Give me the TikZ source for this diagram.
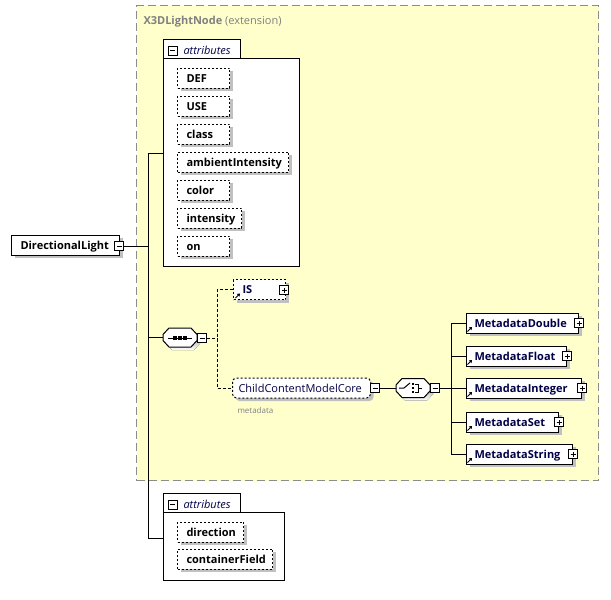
\documentclass[tikz,border=0pt]{standalone}
\usepackage{fontspec}
\setmainfont{Open Sans}
\usetikzlibrary{shadows,arrows.meta}
\definecolor{extfill}{HTML}{FFFFCC}
\definecolor{extline}{HTML}{8C8C8C}
\definecolor{shade}{HTML}{C0C0C0}
\definecolor{navy}{HTML}{000048}
\definecolor{graytext}{HTML}{808080}
\begin{document}
\begin{tikzpicture}[x=1pt,y=-1pt,line width=1pt,
  shad/.style={drop shadow={shadow xshift=3pt,shadow yshift=-3pt,opacity=1,fill=shade}},
  box/.style={draw, fill=white, shad, anchor=west, minimum height=20pt, inner ysep=0pt,
     text height=9pt, text depth=1pt, align=left, font=\bfseries\fontsize{11}{13}\selectfont},
  attr/.style={box, dash pattern=on 2pt off 2pt, inner xsep=9pt},
  refbox/.style={box, inner xsep=8pt, text=navy},
  minus/.style={draw, fill=white, minimum size=9pt, inner sep=0pt, line width=0.8pt,
     path picture={\draw[line width=0.8pt] ([xshift=2pt]path picture bounding box.west) -- ([xshift=-2pt]path picture bounding box.east);}},
  plus/.style={draw, fill=white, minimum size=9pt, inner sep=0pt, line width=0.8pt,
     path picture={\draw[line width=0.8pt] ([xshift=2pt]path picture bounding box.west) -- ([xshift=-2pt]path picture bounding box.east);
                   \draw[line width=0.8pt] ([yshift=2pt]path picture bounding box.south) -- ([yshift=-2pt]path picture bounding box.north);}},
  octanchor/.style={rectangle, minimum width=34pt, minimum height=19pt, inner sep=0pt},
  grp/.style={draw, fill=white, anchor=north west, inner sep=0pt},
  refmark/.style={-{Triangle[length=2.5pt,width=3.5pt]}, line width=1pt},
  dsh/.style={dash pattern=on 3pt off 2pt},
  grptitle/.style={anchor=base west, inner sep=0pt, text=navy, font=\itshape\fontsize{11}{13}\selectfont}
]
\useasboundingbox (0,0) rectangle (611,600);

% extension box
\node[draw=extline, fill=extfill, dash pattern=on 8pt off 4pt, anchor=north west, inner sep=0pt,
      minimum width=462pt, minimum height=475pt] (ext) at (136,5) {};
\node[anchor=base west, inner sep=0pt, text=graytext, font=\fontsize{11}{13}\selectfont] (exttitle) at (143,24)
  {\textbf{X3DLightNode} (extension)};

% root element
\node[box, inner xsep=9pt, text width=90pt] (dl) at (11,245) {DirectionalLight};
\node[minus] (dlm) at (119,246) {};

% attributes group 1
\node[grp, minimum width=136pt, minimum height=208pt] (g1) at (163,58) {};
\draw[fill=white] (g1.north west) -- ++(0,-19) -- ++(77,0) -- ++(0,19);
\node[minus] (g1m) at (172.5,50.5) {};
\node[grptitle] (g1t) at (183,54) {attributes};

\node[attr, text width=34pt] (def) at (177,78) {DEF};
\node[attr, text width=34pt] (use) at (177,106) {USE};
\node[attr, text width=34pt] (cls) at (177,134) {class};
\node[attr, text width=93pt] (amb) at (177,162) {ambientIntensity};
\node[attr, text width=34pt] (col) at (177,190) {color};
\node[attr, text width=46pt] (int) at (177,218) {intensity};
\node[attr, text width=34pt] (on) at (177,246) {on};

% attributes group 2
\node[grp, minimum width=121pt, minimum height=68pt] (g2) at (163,512) {};
\draw[fill=white] (g2.north west) -- ++(0,-19) -- ++(77,0) -- ++(0,19);
\node[minus] (g2m) at (172.5,504.5) {};
\node[grptitle] (g2t) at (183,508) {attributes};
\node[attr, text width=48pt] (dir) at (177,532) {direction};
\node[attr, text width=77pt] (cf) at (177,559) {containerField};

% sequence (octagon)
\node[octanchor] (seq) at (180,337.5) {};
\fill[shade, shift={(183,340.5)}] (-17,-3) -- (-11,-9.5) -- (11,-9.5) -- (17,-3) -- (17,3) -- (11,9.5) -- (-11,9.5) -- (-17,3) -- cycle;
\draw[fill=white, shift={(180,337.5)}] (-17,-3) -- (-11,-9.5) -- (11,-9.5) -- (17,-3) -- (17,3) -- (11,9.5) -- (-11,9.5) -- (-17,3) -- cycle;
\draw[line width=1pt] (168,338) -- (192,338);
\foreach \dx in {-5,0,5} \fill ([xshift=\dx pt]seq.center) ++(-1.6,-1.1) rectangle ++(3.2,3.2);
\node[minus] (seqm) at (202,338) {};

% IS and ChildContentModelCore
\node[attr, text=navy, text width=34pt] (is) at (233,289.5) {IS};
\node[plus] (isp) at (284,290) {};
\draw[refmark] (235.5,298) -- (240,293.5);

\node[box, dash pattern=on 2pt off 2pt, rounded corners=4pt, text=navy, inner xsep=6pt, text width=126pt,
      font=\fontsize{11}{13}\selectfont] (ccm) at (232,388) {ChildContentModelCore};
\node[minus] (ccmm) at (375,388) {};
\node[anchor=base west, inner sep=0pt, text=graytext, font=\fontsize{8}{9}\selectfont] (mdlab) at (237,413) {metadata};

% choice (octagon)
\node[octanchor] (ch) at (413,388) {};
\fill[shade, shift={(416,391)}] (-17,-3) -- (-11,-9.5) -- (11,-9.5) -- (17,-3) -- (17,3) -- (11,9.5) -- (-11,9.5) -- (-17,3) -- cycle;
\draw[fill=white, shift={(413,388)}] (-17,-3) -- (-11,-9.5) -- (11,-9.5) -- (17,-3) -- (17,3) -- (11,9.5) -- (-11,9.5) -- (-17,3) -- cycle;
\draw[line width=1pt] (399,388) -- (404,388) -- (410,383);
\foreach \dy in {-4,0,4} \fill ([yshift=\dy pt]ch.center) ++(-1.3,-1.3) rectangle ++(2.6,2.6);
\draw[line width=1pt] (415,384) -- (418,384) -- (418,392) -- (415,392);
\draw[line width=1pt] (418,388) -- (422,388);
\node[minus] (chm) at (435,388) {};

% metadata elements
\node[refbox, text width=96pt] (md) at (466,323) {MetadataDouble};
\node[refbox, text width=84pt] (mf) at (466,356) {MetadataFloat};
\node[refbox, text width=99pt] (mi) at (466,388) {MetadataInteger};
\node[refbox, text width=76pt] (ms) at (466,422) {MetadataSet};
\node[refbox, text width=90pt] (mstr) at (466,454) {MetadataString};
\foreach \n in {md,mf,mi,ms,mstr} {
  \node[plus] (\n p) at (\n.east) {};
  \draw[refmark] ([xshift=1.5pt,yshift=2pt]\n.south west) -- ++(4.5,-4.5);
}

% connectors
\coordinate (tTop) at (148,153);
\coordinate (tBot) at (148,538);
\draw (dlm.east) -- (dlm.east -| tTop);
\draw (tTop) -- (tBot);
\draw (tTop) -- (tTop -| g1.west);
\draw (tBot) -- (tBot -| g2.west);
\draw (seq.west -| tTop) -- (seq.west);

\coordinate (sj) at (217,338);
\draw[dsh] (seqm.east) -- (sj);
\draw[dsh] (is.west) -| (sj |- ccm.west) -- (ccm.west);

\draw (ccmm.east) -- (ch.west);
\coordinate (cj) at (451,388);
\draw (chm.east) -- (cj);
\draw (md.west -| cj) -- (mstr.west -| cj);
\foreach \n in {md,mf,mi,ms,mstr} \draw (\n.west -| cj) -- (\n.west);
\end{tikzpicture}
\end{document}
